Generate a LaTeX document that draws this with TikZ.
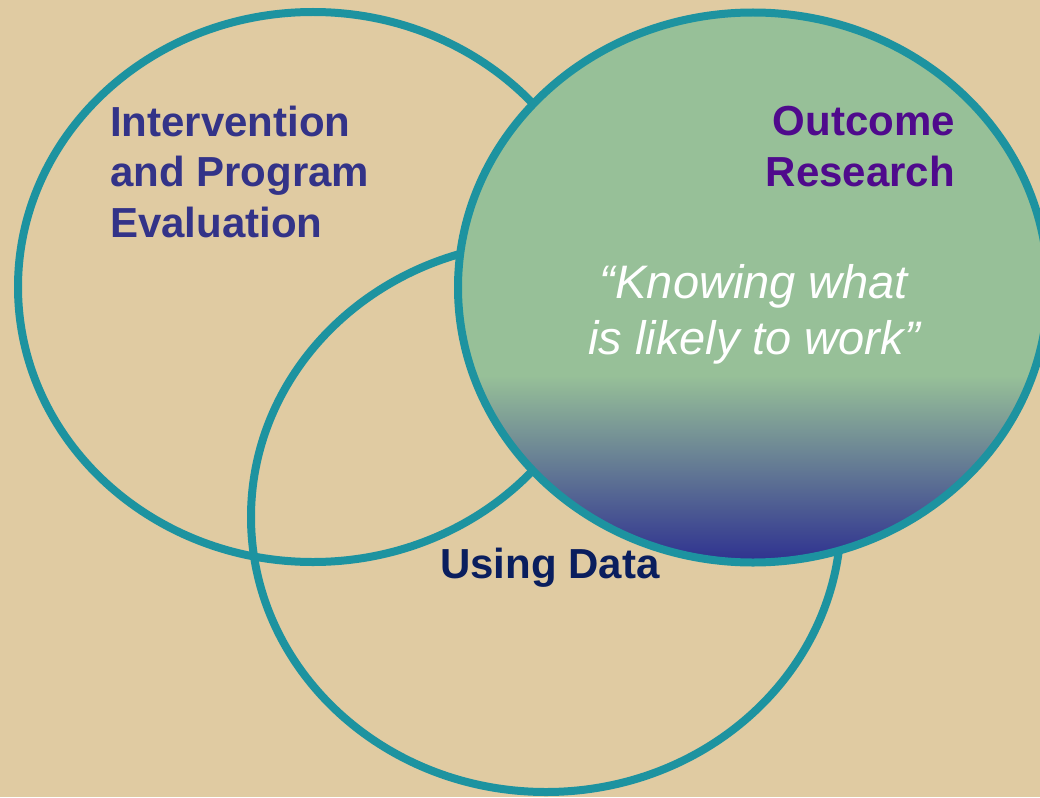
\documentclass[tikz,border=0pt]{standalone}
\usepackage{fontspec}
\setmainfont{Liberation Sans}
\definecolor{bgtan}{HTML}{E0CBA2}
\definecolor{teal}{HTML}{1D93A0}
\definecolor{lgreen}{HTML}{97C098}
\definecolor{dblue}{HTML}{2E3190}
\definecolor{ttlblue}{HTML}{333388}
\definecolor{ttlpurple}{HTML}{4F0A8C}
\definecolor{ttlnavy}{HTML}{0A1E5E}
\pgfdeclareverticalshading{outshade}{100bp}{color(0bp)=(dblue); color(25bp)=(dblue); color(42bp)=(lgreen); color(100bp)=(lgreen)}
\tikzset{
  ring/.style={draw=teal, line width=8pt},
  boldlbl/.style={font=\bfseries\fontsize{42}{50.5}\selectfont, inner sep=0pt},
  quotelbl/.style={font=\itshape\fontsize{47}{56}\selectfont, inner sep=0pt, text=white, align=center}
}
\begin{document}
\begin{tikzpicture}[x=1pt,y=-1pt]
\useasboundingbox (0,0) rectangle (1040,797);
\fill[bgtan] (0,0) rectangle (1040,797);
\begin{scope}
\clip (0,0) rectangle (1040,797);
\draw[ring] (313,287) ellipse [x radius=295, y radius=275];
\draw[ring] (546,517) ellipse [x radius=295, y radius=275];
\draw[ring, shading=outshade] (753,287.5) ellipse [x radius=295, y radius=275];
\end{scope}
\node[boldlbl, text=ttlblue, align=left, anchor=base west] (ipe) at (110,237) {Intervention\\and Program\\Evaluation};
\node[boldlbl, text=ttlpurple, align=right, anchor=base east] (out) at (955,186) {Outcome\\Research};
\node[quotelbl, anchor=base] (quote) at (754,354) {“Knowing what\\is likely to work”};
\node[boldlbl, text=ttlnavy, anchor=base west] (data) at (440,578) {Using Data};
\end{tikzpicture}
\end{document}
